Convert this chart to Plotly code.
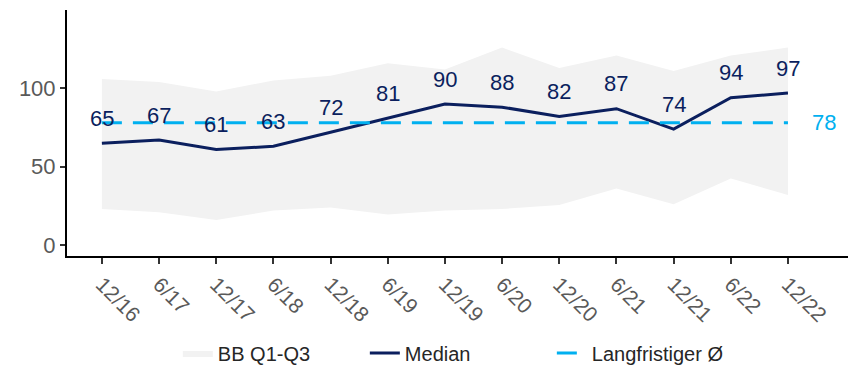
import plotly.graph_objects as go

categories = ["12/16", "6/17", "12/17", "6/18", "12/18", "6/19", "12/19",
              "6/20", "12/20", "6/21", "12/21", "6/22", "12/22"]
median = [65, 67, 61, 63, 72, 81, 90, 88, 82, 87, 74, 94, 97]
q1 = [23, 21, 16, 22, 24, 19.5, 22, 23, 25.5, 36, 26, 42.5, 32]
q3 = [106, 104, 98, 105, 108, 116, 112, 126, 113, 121, 111, 121, 126]
long_term_avg = 78

FONT = "Arial, Liberation Sans, sans-serif"
NAVY = "#0b1f5e"
LIGHTBLUE = "#00b0f0"
GREY_TXT = "#595959"

fig = go.Figure()
fig.add_trace(go.Scatter(x=categories, y=q1, mode="lines", line=dict(width=0),
                         showlegend=False, hoverinfo="skip"))
fig.add_trace(go.Scatter(x=categories, y=q3, mode="lines", line=dict(width=0),
                         fill="tonexty", fillcolor="#f2f2f2", name="BB Q1-Q3"))
fig.add_trace(go.Scatter(x=categories, y=median, mode="lines",
                         line=dict(color=NAVY, width=3), name="Median"))
fig.add_trace(go.Scatter(x=[categories[0], categories[-1]],
                         y=[long_term_avg, long_term_avg], mode="lines",
                         line=dict(color=LIGHTBLUE, width=3, dash="20px,11px"),
                         name="Langfristiger Ø"))

for c, v in zip(categories, median):
    fig.add_annotation(x=c, y=v, text=str(v), showarrow=False, yshift=25,
                       font=dict(family=FONT, size=22, color=NAVY))
fig.add_annotation(x=categories[-1], y=long_term_avg, text=str(long_term_avg),
                   showarrow=False, xanchor="left", xshift=22,
                   font=dict(family=FONT, size=22, color=LIGHTBLUE))

# the page body has an 8px margin, so the figure is 8px smaller and margins shifted
fig.update_layout(
    width=848, height=359,
    margin=dict(l=59, r=0, t=2, b=111, autoexpand=False),
    paper_bgcolor="white", plot_bgcolor="white",
    font=dict(family=FONT, size=22, color=GREY_TXT),
    legend=dict(orientation="h", traceorder="normal",
                x=0.496, xanchor="center", y=-0.394, yanchor="middle",
                itemwidth=30, entrywidth=142,
                font=dict(family=FONT, size=20, color="#262626")),
    xaxis=dict(type="category", range=[-0.61, 13.19], showgrid=False,
               automargin=False,
               showline=True, linecolor="black", linewidth=2,
               ticks="outside", ticklen=6, tickwidth=2, tickcolor="#333333",
               tickangle=45, tickfont=dict(size=21, color=GREY_TXT)),
    yaxis=dict(range=[-7, 150], tickvals=[0, 50, 100], showgrid=False,
               automargin=False,
               zeroline=False, showline=True, linecolor="black", linewidth=2,
               ticks="outside", ticklen=5, tickwidth=2, tickcolor="#333333",
               tickfont=dict(size=22, color=GREY_TXT)),
)

fig.write_html("out.html")
